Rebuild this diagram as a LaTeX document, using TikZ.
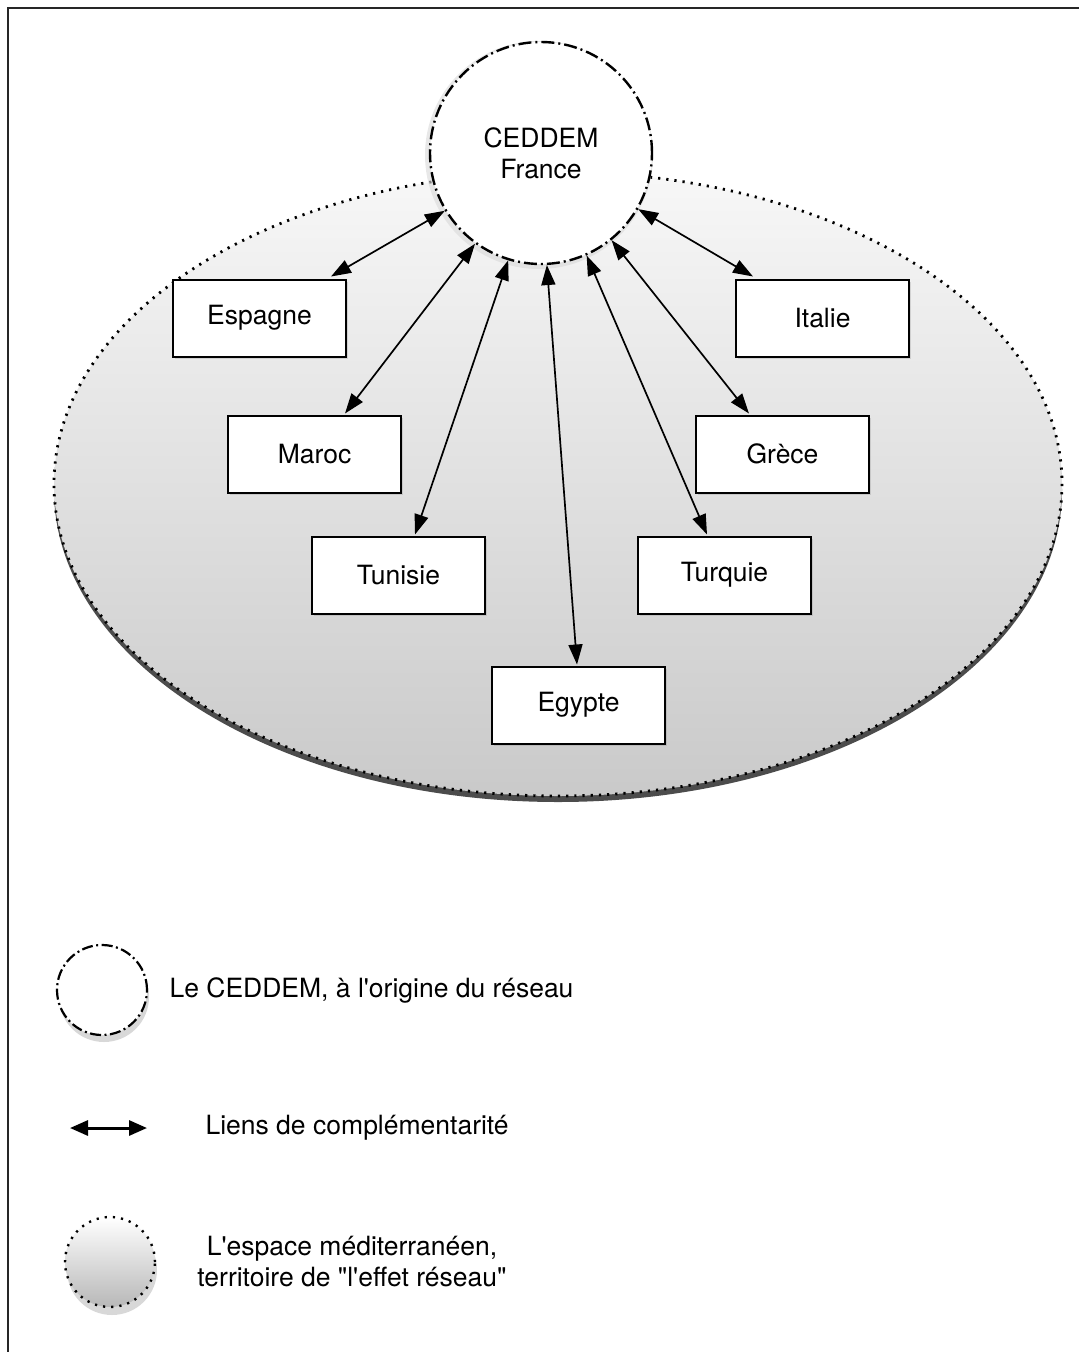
\documentclass[tikz,border=0pt]{standalone}
\usepackage{fontspec}
\setmainfont{TeX Gyre Heros}
\usetikzlibrary{arrows.meta,calc,shadows}
\begin{document}
\begin{tikzpicture}[x=1pt,y=-1pt,
  every node/.style={font=\fontsize{26.5}{31}\selectfont},
  country/.style={draw=black,line width=2pt,fill=white,minimum width=173pt,minimum height=77pt,inner sep=0pt,
     drop shadow={shadow xshift=2pt,shadow yshift=-2pt,opacity=0.25}},
  link/.style={line width=1.7pt,{Triangle[length=20pt,width=14pt]}-{Triangle[length=20pt,width=14pt]}},
  dashdot/.style={dash pattern=on 13pt off 4pt on 2pt off 4pt},
  dotline/.style={dash pattern=on 2.2pt off 6pt,line width=2.8pt},
]
\useasboundingbox (0,0) rectangle (1079,1352);
% frame
\draw[line width=2pt,black!85] (8,1352) -- (8,8) -- (1079,8);

% mediterranean space
\fill[black!70] (558,490) ellipse [x radius=504, y radius=312];
\shade[top color=white!97!black,bottom color=black!21,draw=black,dotline] (558,484) ellipse [x radius=504, y radius=312];

% CEDDEM circle
\fill[black!15,opacity=0.6] (539,155) circle (114);
\node[circle,draw=black,fill=white,line width=2.4pt,dashdot,minimum size=222pt,inner sep=0pt,align=center] (c) at (541,153) {CEDDEM\\France};

% countries
\node[country] (esp) at (259.5,318) {Espagne};
\node[country] (ita) at (822.5,318) {Italie};
\node[country] (mar) at (314.5,454) {Maroc};
\node[country] (gre) at (782.5,454) {Grèce};
\node[country] (tun) at (398.5,575) {Tunisie};
\node[country] (tur) at (724.5,575) {Turquie};
\node[country] (egy) at (578.5,705) {Egypte};

% links
\draw[link] (c.211) -- ($(esp.north east)+(-16,-2)$);
\draw[link] (c.330) -- ($(ita.north west)+(18,-2)$);
\draw[link] (c.234) -- ($(mar.north)+(30.5,-1)$);
\draw[link] (c.309) -- ($(gre.north)+(-33.5,-1)$);
\draw[link] (c.253) -- ($(tun.north)+(16.5,-1)$);
\draw[link] (c.294) -- ($(tur.north)+(-17.5,-1)$);
\draw[link] (c.273) -- ($(egy.north)+(-1.5,-1)$);

% legend
\fill[black!30,opacity=0.5] (104,997) circle (45);
\node[circle,draw=black,fill=white,line width=2.2pt,dash pattern=on 11pt off 3.5pt on 2pt off 3.5pt,minimum size=90pt,inner sep=0pt] (l1) at (102,990) {};
\node[anchor=west] (t1) at (166,990) {Le CEDDEM, à l\textquotesingle origine du réseau};

\coordinate (a1) at (70,1128);
\coordinate (a2) at (147,1128);
\draw[line width=3pt,{Triangle[length=18pt,width=15pt]}-{Triangle[length=18pt,width=15pt]}] (a1) -- (a2);
\node[anchor=west] (t2) at (202,1128) {Liens de complémentarité};

\fill[black!30,opacity=0.5] (112,1270) circle (45);
\node[circle,top color=white,bottom color=black!28,draw=black,dotline,line width=2.4pt,minimum size=90pt,inner sep=0pt] (l3) at (110,1262) {};
\node[align=center] (t3) at (352,1262) {L\textquotesingle espace méditerranéen,\\territoire de \textquotedbl l\textquotesingle effet réseau\textquotedbl};
\end{tikzpicture}
\end{document}
